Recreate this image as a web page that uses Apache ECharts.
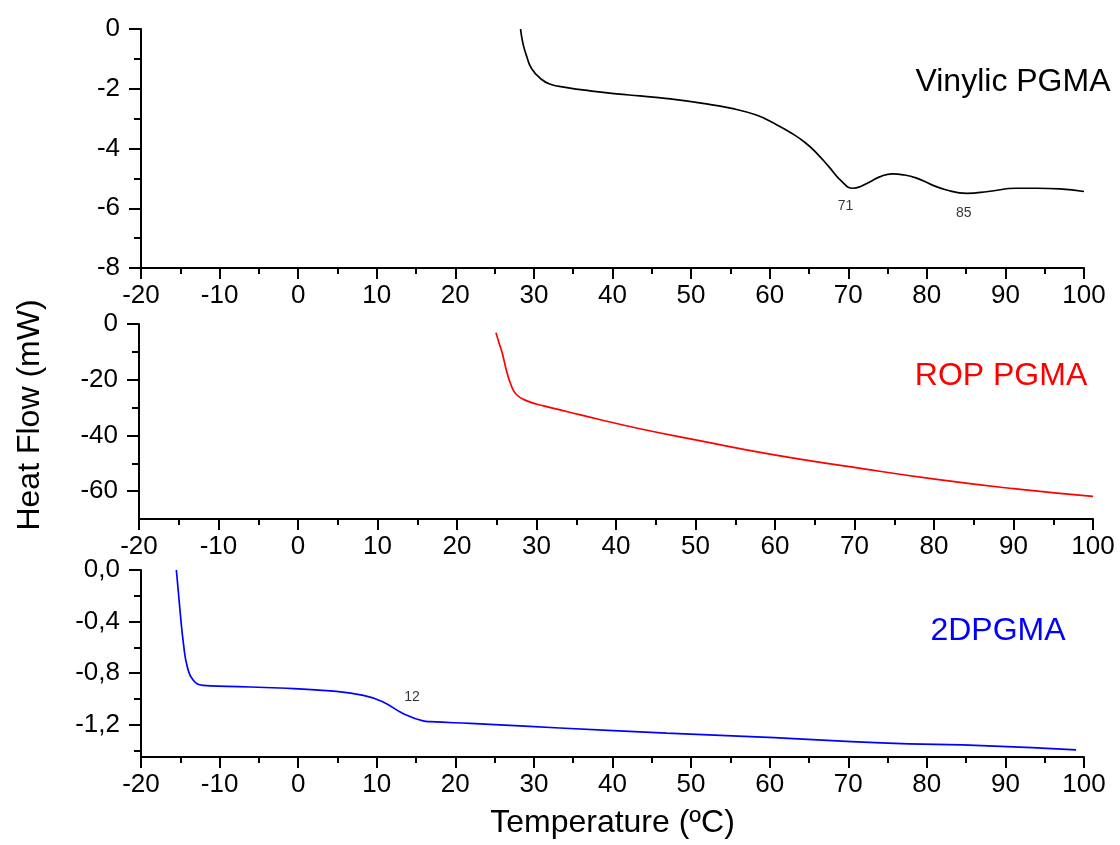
<!DOCTYPE html>
<html>
<head>
<meta charset="utf-8">
<script src="https://cdn.jsdelivr.net/npm/echarts@6/dist/echarts.min.js"></script>
<style>html,body{margin:0;padding:0;background:#fff}#c{width:1120px;height:845px}</style>
</head>
<body>
<div id="c"></div>
<script>
// ---- data ----
const vinylicT  = [28.3, 28.6, 29.1, 29.7, 30.8, 32.0, 34.2, 37.1, 40.5, 43.5, 47, 51.5, 55, 58.3, 60.5, 62.8, 64.5, 66, 67.5, 69.2, 70.6, 71.5, 72.8, 74, 75.6, 77, 78.7, 80.5, 82.4, 85.1, 87.8, 91.4, 94, 96.9, 100];
const vinylicHF = [0, -0.48, -0.93, -1.32, -1.65, -1.84, -1.96, -2.07, -2.17, -2.24, -2.33, -2.49, -2.65, -2.88, -3.15, -3.49, -3.8, -4.16, -4.6, -5.11, -5.33, -5.28, -5.11, -4.95, -4.85, -4.88, -4.99, -5.2, -5.38, -5.5, -5.44, -5.33, -5.33, -5.35, -5.44];

const ropT  = [24.9, 25.3, 25.7, 26.2, 26.8, 27.5, 28.8, 30.9, 33.8, 37.8, 43, 50.0, 59.9, 69.8, 80.1, 90.0, 100];
const ropHF = [-3.1, -6.9, -10.5, -16.5, -21.9, -25.4, -27.6, -29.4, -31.4, -34.2, -37.6, -41.6, -47.0, -51.4, -55.7, -59.1, -61.9];

const dpT  = [-15.5, -15.0, -14.6, -14.1, -13.35, -12.1, -9.1, -2.3, 4.05, 8.3, 10.8, 13.4, 15.9, 16.8, 21.9, 24.4, 33.3, 46.9, 60.6, 74.2, 87.8, 99.0];
const dpHF = [0, -0.337, -0.57, -0.752, -0.855, -0.894, -0.902, -0.915, -0.938, -0.972, -1.024, -1.114, -1.17, -1.176, -1.19, -1.197, -1.225, -1.265, -1.30, -1.34, -1.363, -1.394];

// annotations: [T, HF, text]
const vinylicNotes = [[69.65, -5.94, '71'], [84.7, -6.16, '85']];
const dpNotes = [[14.5, -0.985, '12']];

// tick values
const tempRange = [-20, 100];
const hfRange1 = [-8, 0],    hfMajor1 = [0, -2, -4, -6, -8],    hfMinor1 = [-1, -3, -5, -7];
const hfRange2 = [-70, 0],   hfMajor2 = [0, -20, -40, -60],     hfMinor2 = [-10, -30, -50];
const hfRange3 = [-1.45, 0], hfMajor3 = [0, -0.4, -0.8, -1.2],  hfMinor3 = [-0.2, -0.6, -1.0, -1.4];

const names = ['Vinylic PGMA', 'ROP PGMA', '2DPGMA'];
const colors = ['#000000', '#ff0000', '#0000ff'];

// ---- chart ----
const FONT = "'Liberation Sans', Arial, sans-serif";
const zip = (a, b) => a.map((v, i) => [v, b[i]]);

const grids = [
  {left: 141, right: 36, top: 29, height: 239},
  {left: 139, right: 27, top: 324, height: 195},
  {left: 141, right: 36, top: 570, height: 187}
];

function xAxis(i) {
  return {
    type: 'value', gridIndex: i, min: tempRange[0], max: tempRange[1], interval: 10, position: 'bottom',
    axisLine: {onZero: false, lineStyle: {color: '#000', width: 2}},
    axisTick: {length: 11, lineStyle: {color: '#000', width: 2}},
    minorTick: {show: true, splitNumber: 2, length: 6, lineStyle: {color: '#000', width: 2}},
    splitLine: {show: false},
    axisLabel: {color: '#000', fontSize: 26, fontFamily: FONT, margin: 15},
    name: i === 2 ? 'Temperature (ºC)' : '',
    nameLocation: 'middle', nameGap: 50,
    nameTextStyle: {color: '#000', fontSize: 32, fontFamily: FONT}
  };
}
function yMajor(i, range, ticks, fmt) {
  return {
    type: 'value', gridIndex: i, min: range[0], max: range[1], position: 'left',
    axisLine: {onZero: false, lineStyle: {color: '#000', width: 2}},
    axisTick: {length: 12, customValues: ticks, lineStyle: {color: '#000', width: 2}},
    axisLabel: {customValues: ticks, color: '#000', fontSize: 26, fontFamily: FONT, margin: 21, formatter: fmt},
    splitLine: {show: false}
  };
}
function yMinor(i, range, ticks) {
  return {
    type: 'value', gridIndex: i, min: range[0], max: range[1], position: 'left',
    axisLine: {show: false, onZero: false},
    axisTick: {length: 7, customValues: ticks, lineStyle: {color: '#000', width: 2}},
    axisLabel: {show: false},
    splitLine: {show: false}
  };
}
const fmtInt = v => String(v);
const fmtComma = v => (Math.abs(v) < 1e-9 ? 0 : v).toFixed(1).replace('.', ',');

function noteSeries(notes, xi, yi) {
  return {
    type: 'scatter', xAxisIndex: xi, yAxisIndex: yi, symbolSize: 0, silent: true,
    data: notes.map(n => ({value: [n[0], n[1]], label: {formatter: n[2]}})),
    label: {show: true, position: 'inside', color: '#000', fontSize: 14, fontFamily: FONT}
  };
}

const lineBase = {type: 'line', showSymbol: false, smooth: 0.5};

const option = {
  backgroundColor: '#fff',
  animation: false,
  grid: grids,
  xAxis: [xAxis(0), xAxis(1), xAxis(2)],
  yAxis: [
    yMajor(0, hfRange1, hfMajor1, fmtInt),
    yMajor(1, hfRange2, hfMajor2, fmtInt),
    yMajor(2, hfRange3, hfMajor3, fmtComma),
    yMinor(0, hfRange1, hfMinor1),
    yMinor(1, hfRange2, hfMinor2),
    yMinor(2, hfRange3, hfMinor3)
  ],
  series: [
    Object.assign({name: names[0], xAxisIndex: 0, yAxisIndex: 0, data: zip(vinylicT, vinylicHF),
      lineStyle: {color: colors[0], width: 1.7}}, lineBase),
    Object.assign({name: names[1], xAxisIndex: 1, yAxisIndex: 1, data: zip(ropT, ropHF),
      lineStyle: {color: colors[1], width: 1.7}}, lineBase),
    Object.assign({name: names[2], xAxisIndex: 2, yAxisIndex: 2, data: zip(dpT, dpHF),
      lineStyle: {color: colors[2], width: 1.7}}, lineBase),
    noteSeries(vinylicNotes, 0, 0),
    noteSeries(dpNotes, 2, 2)
  ],
  graphic: [
    {type: 'text', x: 1013, y: 82, style: {text: names[0], fill: colors[0], font: '32px ' + FONT, align: 'center', verticalAlign: 'middle'}},
    {type: 'text', x: 1001, y: 376, style: {text: names[1], fill: colors[1], font: '32px ' + FONT, align: 'center', verticalAlign: 'middle'}},
    {type: 'text', x: 998, y: 631, style: {text: names[2], fill: colors[2], font: '32px ' + FONT, align: 'center', verticalAlign: 'middle'}},
    {type: 'text', x: 30, y: 415, rotation: Math.PI / 2, style: {text: 'Heat Flow (mW)', fill: '#000', font: '32px ' + FONT, align: 'center', verticalAlign: 'middle'}}
  ]
};

const chart = echarts.init(document.getElementById('c'), null, {renderer: 'canvas'});
chart.setOption(option);
</script>
</body>
</html>
